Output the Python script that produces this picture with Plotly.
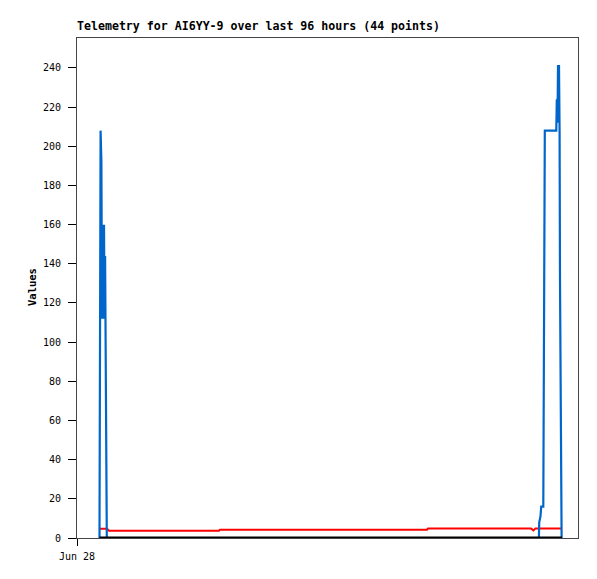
import plotly.graph_objects as go
import pandas as pd

START = pd.Timestamp("2024-06-28 00:00")
END = pd.Timestamp("2024-07-02 00:00")

# hours since Jun 28 00:00
blue_hours = [4.31, 4.37, 4.52, 4.675, 4.79, 4.905, 5.04, 5.174, 5.269, 5.384, 5.461, 5.557, 5.71,
              88.51, 88.57, 88.81, 88.95, 89.35, 89.49, 89.64, 91.84, 91.94, 92.07, 92.17, 92.36,
              92.47, 92.55, 92.70, 92.86]
blue_values = [0, 104, 208, 192, 112, 160, 112, 160, 114, 144, 112, 48, 0,
               0, 8, 11, 16, 16, 112, 208, 208, 224, 212, 241, 241,
               208, 132, 44, 0]

red_hours = [4.31, 5.75, 6.13, 27.21, 27.40, 67.07, 67.26, 86.99, 87.47, 87.86, 92.93]
red_values = [4.7, 4.7, 3.7, 3.7, 4.25, 4.25, 4.9, 4.9, 3.9, 4.9, 4.9]

black_hours = [4.31, 92.93]
black_values = [0, 0]

y_ticks = [0, 20, 40, 60, 80, 100, 120, 140, 160, 180, 200, 220, 240]
x_tick_labels = ["Jun 28"]


def to_time(hours):
    return [START + pd.Timedelta(hours=h) for h in hours]


fig = go.Figure()
fig.add_trace(go.Scatter(x=to_time(red_hours), y=red_values, mode="lines",
                         line=dict(color="#ff0000", width=2), showlegend=False))
fig.add_trace(go.Scatter(x=to_time(blue_hours), y=blue_values, mode="lines",
                         line=dict(color="#0066cc", width=2.2), showlegend=False))
fig.add_trace(go.Scatter(x=to_time(black_hours), y=black_values, mode="lines",
                         line=dict(color="#000000", width=3), showlegend=False))

fig.update_layout(
    width=597, height=579,
    margin=dict(l=77, r=19, t=38, b=41),
    paper_bgcolor="white", plot_bgcolor="white",
    title=dict(text="<b>Telemetry for AI6YY-9 over last 96 hours (44 points)</b>",
               font=dict(family="DejaVu Sans Mono", size=11.6, color="black"),
               xref="container", yref="container", x=77 / 597, xanchor="left",
               y=1 - 26 / 579, yanchor="middle"),
    xaxis=dict(type="date", range=[START, END], tickvals=[START], ticktext=x_tick_labels,
               ticks="outside", ticklen=7, tickcolor="black", showgrid=False, zeroline=False,
               showline=True, linecolor="#444444", linewidth=1, mirror=True,
               ticklabelstandoff=2,
               tickfont=dict(family="DejaVu Sans Mono", size=10, color="black")),
    yaxis=dict(range=[0, 255.3], tickvals=y_ticks, ticks="outside", ticklen=8, tickcolor="black",
               showgrid=False, zeroline=False, showline=True, linecolor="#444444", linewidth=1,
               mirror=True, ticklabelstandoff=5,
               tickfont=dict(family="DejaVu Sans Mono", size=10, color="black")),
    annotations=[dict(text="<b>Values</b>", textangle=-90, xref="paper", yref="paper",
                      x=(32 - 77) / 501, y=(538 - 287) / 500, xanchor="center", yanchor="middle",
                      showarrow=False,
                      font=dict(family="DejaVu Sans Mono", size=10.5, color="black"))],
)

fig.write_html("out.html", config={"displayModeBar": False},
               post_script="document.body.style.margin='0';")
